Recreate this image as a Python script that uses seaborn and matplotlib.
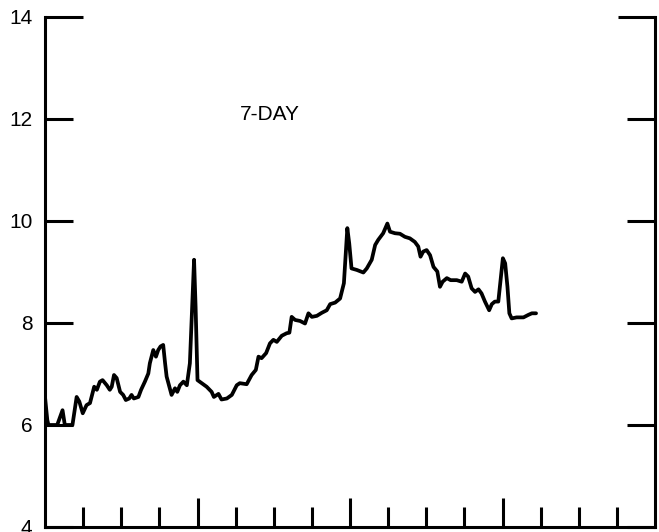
import matplotlib
matplotlib.use("Agg")
import matplotlib.pyplot as plt
import seaborn as sns

# values
day = [0.00, 0.06, 0.09, 0.32, 0.46, 0.52, 0.72, 0.83, 0.90, 0.99, 1.09, 1.18,
       1.29, 1.36, 1.44, 1.51, 1.62, 1.70, 1.75, 1.81, 1.88, 1.97, 2.05, 2.12,
       2.21, 2.27, 2.33, 2.45, 2.52, 2.62, 2.71, 2.75, 2.84, 2.91, 2.97, 3.03,
       3.10, 3.15, 3.19, 3.32, 3.41, 3.47, 3.54, 3.63, 3.72, 3.80, 3.86, 3.91,
       3.95, 4.00, 4.11, 4.24, 4.37, 4.43, 4.55, 4.63, 4.77, 4.90, 5.03, 5.11,
       5.29, 5.42, 5.53, 5.60, 5.68, 5.80, 5.90, 5.99, 6.08, 6.21, 6.34, 6.41,
       6.47, 6.56, 6.69, 6.82, 6.91, 7.00, 7.13, 7.26, 7.39, 7.48, 7.61, 7.74,
       7.84, 7.93, 7.98, 8.04, 8.18, 8.35, 8.44, 8.57, 8.66, 8.74, 8.87, 8.98,
       9.05, 9.18, 9.31, 9.44, 9.57, 9.70, 9.79, 9.85, 9.92, 10.01, 10.10, 10.19,
       10.29, 10.36, 10.43, 10.54, 10.64, 10.80, 10.93, 11.02, 11.10, 11.19, 11.28,
       11.37, 11.45, 11.54, 11.65, 11.72, 11.80, 11.89, 11.95, 12.01, 12.07, 12.13,
       12.18, 12.24, 12.37, 12.55, 12.68, 12.77, 12.88]
value = [6.55, 6.10, 6.00, 6.00, 6.29, 6.00, 6.00, 6.55, 6.46, 6.23, 6.39, 6.43,
         6.75, 6.69, 6.85, 6.88, 6.78, 6.69, 6.75, 6.98, 6.92, 6.65, 6.59, 6.49,
         6.52, 6.59, 6.52, 6.55, 6.69, 6.85, 7.01, 7.21, 7.47, 7.34, 7.47, 7.54,
         7.57, 7.21, 6.95, 6.59, 6.72, 6.65, 6.78, 6.85, 6.78, 7.21, 8.32, 9.24,
         8.32, 6.88, 6.82, 6.75, 6.65, 6.55, 6.61, 6.50, 6.52, 6.59, 6.78, 6.82,
         6.80, 6.98, 7.08, 7.34, 7.31, 7.41, 7.60, 7.67, 7.63, 7.75, 7.80, 7.81,
         8.12, 8.06, 8.04, 7.99, 8.19, 8.12, 8.14, 8.20, 8.25, 8.37, 8.40, 8.48,
         8.78, 9.86, 9.56, 9.07, 9.04, 8.99, 9.07, 9.24, 9.53, 9.63, 9.76, 9.95,
         9.79, 9.76, 9.75, 9.69, 9.66, 9.59, 9.50, 9.30, 9.40, 9.43, 9.33, 9.10,
         9.01, 8.71, 8.81, 8.88, 8.84, 8.84, 8.81, 8.97, 8.91, 8.68, 8.61,
         8.66, 8.58, 8.42, 8.25, 8.37, 8.42, 8.42, 8.84, 9.27, 9.17, 8.71,
         8.19, 8.09, 8.11, 8.11, 8.16, 8.19, 8.19]

y_ticks = [4, 6, 8, 10, 12, 14]
x_major = [4, 8, 12]
x_minor = [1, 2, 3, 5, 6, 7, 9, 10, 11, 13, 14, 15]

sns.set_style("ticks")
plt.rcParams['font.family'] = ['Liberation Sans', 'DejaVu Sans']
plt.rcParams['text.color'] = 'black'

fig = plt.figure(figsize=(6.59, 5.32), dpi=100)
ax = fig.add_axes([45 / 659, 1 - 527 / 532, 610 / 659, 510 / 532])

sns.lineplot(x=day, y=value, color='black', linewidth=2.7, sort=False, ax=ax)

ax.set_xlim(0, 16)
ax.set_ylim(4, 14)
ax.set_xticks(x_major)
ax.set_xticks(x_minor, minor=True)
ax.set_xticklabels([])
ax.set_yticks(y_ticks)
ax.set_yticklabels([str(t) for t in y_ticks], fontsize=15, color='black')
ax.set_xlabel('')
ax.set_ylabel('')

ax.tick_params(axis='y', which='major', direction='in', length=20, width=2.2,
               left=True, right=True, labelright=False, pad=9, colors='black')
ax.tick_params(axis='x', which='major', direction='in', length=21, width=2.2,
               bottom=True, top=False, colors='black')
ax.tick_params(axis='x', which='minor', direction='in', length=14.5, width=2.2,
               bottom=True, top=False, colors='black')

# top tick on the y axis is a bit longer
top_tick = ax.yaxis.get_major_ticks()[-1]
top_tick.tick1line.set_markersize(27)
top_tick.tick2line.set_markersize(27)

ax.spines['top'].set_visible(False)
for side in ['left', 'right', 'bottom']:
    ax.spines[side].set_linewidth(2.2)
    ax.spines[side].set_color('black')

ax.text(5.9, 12.09, '7-DAY', fontsize=15, ha='center', va='center', color='black')

fig.savefig('out.png', dpi=100)
